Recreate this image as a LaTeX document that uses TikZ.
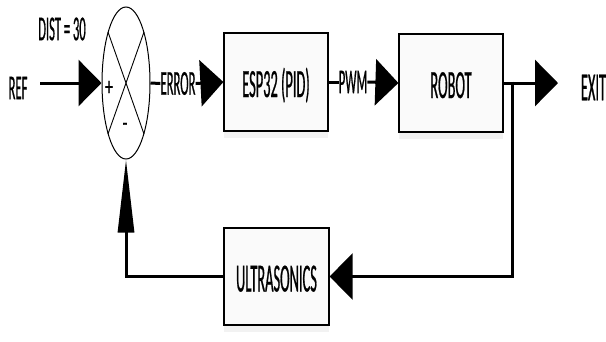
\documentclass[tikz,border=0pt]{standalone}
\usepackage{fontspec}
\usetikzlibrary{arrows.meta,shapes.geometric,shadows}
\newfontfamily\lblfont[FakeStretch=0.36,FakeBold=0.5]{Carlito}
\newfontfamily\signfont[FakeStretch=0.6,FakeBold=0.5]{Carlito}

\tikzset{
  block/.style={draw=black, line width=1.2pt, fill=gray!4,
    minimum width=104pt, minimum height=98pt, inner sep=0pt,
    text height=30pt, text depth=0pt,
    font=\lblfont\fontsize{40pt}{40pt}\selectfont,
    drop shadow={shadow xshift=0pt, shadow yshift=-7pt, opacity=0.10, fill=gray}},
  sig/.style={inner sep=0pt, font=\lblfont\fontsize{35pt}{35pt}\selectfont},
  big/.style={inner sep=0pt, font=\lblfont\fontsize{40pt}{40pt}\selectfont},
  sign/.style={inner sep=0pt, font=\signfont\fontsize{26pt}{26pt}\selectfont},
  wire/.style={line width=3pt},
  hhead/.style={-{Triangle[length=23pt,width=46pt]}},
  vhead/.style={-{Triangle[length=73pt,width=16pt]}},
}

\begin{document}
\begin{tikzpicture}[x=1pt,y=-1pt]
\useasboundingbox (0,0) rectangle (606,341);

% summing junction
\node[ellipse, draw, line width=1pt, minimum width=48pt, minimum height=152pt,
      inner sep=0pt, fill=white] (sum) at (126,83) {};
\draw[line width=0.9pt] ([shift={(-18pt,51pt)}]sum.center) -- ([shift={(18pt,-51pt)}]sum.center);
\draw[line width=0.9pt] ([shift={(18pt,51pt)}]sum.center) -- ([shift={(-18pt,-51pt)}]sum.center);
\node[sign] (plus) at (109,88) {+};
\node[sign] (minus) at (125,127) {-};

% reference input
\node[sig] (ref) at (18,88) {REF};
\node[sig] (dist) at (62,29) {DIST = 30};
\coordinate (refstart) at (40,83);
\draw[wire,hhead] (refstart) -- (sum.west);

% forward path
\node[block] (esp) at (276,82) {ESP32 (PID)};
\node[block] (robot) at (451,83) {ROBOT};
\node[sig] (err) at (178,83.5) {ERROR};
\node[sig] (pwm) at (353,82) {PWM};
\draw[wire] (sum.east) -- (err.west);
\draw[wire,hhead] (err.east) -- (esp.west);
\draw[wire] (esp.east) -- (pwm.west);
\draw[wire,hhead] (pwm.east) -- (robot.west);

% output
\coordinate (out) at (558,83);
\draw[wire,hhead] (robot.east) -- (out);
\node[big] (exit) at (593.5,87.5) {EXIT};

% feedback path
\node[block, minimum width=105pt, minimum height=97pt] (ultra) at (276.5,276.5) {ULTRASONICS};
\coordinate (tap) at (512,81.5);
\draw[wire,hhead] (tap) |- (ultra.east);
\draw[wire,vhead] (ultra.west) -| (sum.south);
\end{tikzpicture}
\end{document}
